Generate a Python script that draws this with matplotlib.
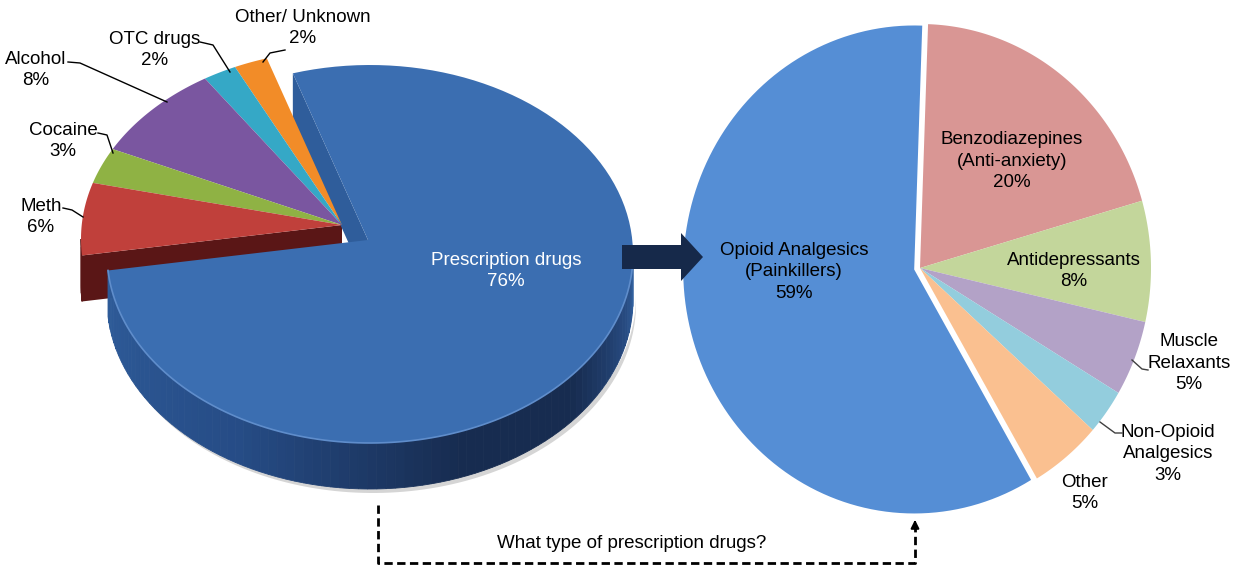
import numpy as np
import matplotlib
matplotlib.use('Agg')
import matplotlib.pyplot as plt
from matplotlib.patches import Polygon, FancyArrow
from matplotlib.colors import to_rgb

plt.rcParams['font.family'] = ['Liberation Sans', 'DejaVu Sans']

# left pie - substances (counterclockwise order)
sub_labels = ['Prescription drugs\n76%', 'Other/ Unknown\n2%', 'OTC drugs\n2%', 'Alcohol\n8%', 'Cocaine\n3%', 'Meth\n6%']
sub_values = [76, 2, 2, 8, 3, 6]
sub_colors = ['#3B6EB1', '#F28C28', '#35A8C6', '#7A56A0', '#8FB244', '#C0403B']
sub_side = ['#2A5088', '#A85A12', '#1E7088', '#4E3468', '#5C7A22', '#5A1616']

# right pie - type of prescription drugs (clockwise order from top)
rx_labels = ['Benzodiazepines\n(Anti-anxiety)\n20%', 'Antidepressants\n8%', 'Muscle\nRelaxants\n5%',
             'Non-Opioid\nAnalgesics\n3%', 'Other\n5%', 'Opioid Analgesics\n(Painkillers)\n59%']
rx_values = [20, 8, 5, 3, 5, 59]
rx_colors = ['#D99694', '#C3D69B', '#B3A2C7', '#93CDDD', '#FAC090', '#558ED5']

FS = 13.5
LS = 1.38

fig = plt.figure(figsize=(12.33, 5.67), dpi=100)
ax = fig.add_axes([0, 0, 1, 1])
ax.set_xlim(0, 1233)
ax.set_ylim(567, 0)
ax.axis('off')


def arc(cx, cy, a, b, t0, t1, n=120):
    t = np.radians(np.linspace(t0, t1, n))
    return np.column_stack([cx + a * np.cos(t), cy - b * np.sin(t)])


# ---------- left 3D pie ----------
A, B, DEPTH = 263, 189, 46
pie_c = np.array([356.0, 246.0])
apex_off = np.array([-2.0, -14.0])
ang = np.array(sub_values) / sum(sub_values) * 360
starts = 185 + np.concatenate([[0], np.cumsum(ang)[:-1]])
ends = starts + ang

# groups: blue slice pulled out, the rest pushed back
groups = [(list(range(1, 6)), np.array([-12.0, -7.0])), ([0], np.array([14.0, 8.0]))]

side_t = [180, 240, 290, 320, 350, 360]
side_rgb = [to_rgb(c) for c in ['#2F5D9B', '#264C86', '#172C50', '#172C50', '#2A5089', '#3262A0']]


def side_color(i, t):
    if i != 0:
        return sub_side[i]
    tt = t % 360
    return tuple(np.interp(tt, side_t, [c[k] for c in side_rgb]) for k in range(3))


def draw_group(idx, off):
    c = pie_c + off
    apex = c + apex_off
    d = np.array([0, DEPTH])
    t_lo, t_hi = starts[idx[0]], ends[idx[-1]]
    # shadow
    if 0 in idx:
        sh = arc(c[0] + 3, c[1] + DEPTH + 4, A, B, 180, 360)
        ax.add_patch(Polygon(np.vstack([sh, sh[::-1] - [0, 8]]), closed=True, fc='#D5D5D5', ec='none', zorder=1))
    # radial faces on group boundaries
    for t in (t_lo, t_hi):
        outer = arc(c[0], c[1], A, B, t, t, 1)[0]
        vis = (t == t_lo and np.cos(np.radians(t)) > 0) or (t == t_hi and np.cos(np.radians(t)) < 0)
        if vis:
            i = idx[0] if t == t_lo else idx[-1]
            ax.add_patch(Polygon([apex, outer, outer + d, apex + d], closed=True,
                                 fc=side_color(i, 100) if i == 0 else sub_side[i], ec='none', zorder=2))
    # outer rim sides (front half only)
    for i in idx:
        s, e = starts[i], ends[i]
        for k in range(int(np.floor(s / 360)) - 1, int(np.ceil(e / 360)) + 1):
            lo, hi = max(s, 180 + 360 * k), min(e, 360 + 360 * k)
            if hi <= lo:
                continue
            n = max(2, int((hi - lo) / 2))
            tt = np.linspace(lo, hi, n + 1)
            for j in range(n):
                top = arc(c[0], c[1], A, B, tt[j], tt[j + 1], 4)
                col = side_color(i, (tt[j] + tt[j + 1]) / 2)
                ax.add_patch(Polygon(np.vstack([top, top[::-1] + d]), closed=True,
                                     fc=col, ec=col, lw=0.6, zorder=3))
    # tops
    for i in idx:
        pts = np.vstack([apex, arc(c[0], c[1], A, B, starts[i], ends[i])])
        ax.add_patch(Polygon(pts, closed=True, fc=sub_colors[i], ec='none', zorder=4))
    if 0 in idx:
        rim = arc(c[0], c[1], A, B, 185, 360)
        ax.plot(rim[:, 0], rim[:, 1], color='#5F8DCB', lw=1.2, zorder=5)


for idx, off in groups:
    draw_group(idx, off)

ax.text(506, 271, sub_labels[0], color='white', fontsize=FS, ha='center', va='center', linespacing=LS, zorder=6)
left_pos = [None, (303, 28), (155, 50), (36, 70), (63, 141), (41, 217)]
left_lead = [None,
             [(263, 62), (270, 53), (285, 50)],
             [(200, 42), (213, 45), (230, 72)],
             [(68, 62), (80, 63), (167, 102)],
             [(98, 133), (107, 135), (113, 153)],
             [(63, 208), (72, 210), (83, 217)]]
for i in range(1, 6):
    ax.text(*left_pos[i], sub_labels[i], fontsize=FS, ha='center', va='center', linespacing=LS, zorder=6)
    ld = np.array(left_lead[i])
    ax.plot(ld[:, 0], ld[:, 1], color='black', lw=1, zorder=6)

# ---------- right flat pie ----------
RA, RB = 231, 244
rc = np.array([920.0, 268.0])
r_ang = np.array(rx_values) / sum(rx_values) * 360
r_hi = 88 - np.concatenate([[0], np.cumsum(r_ang)[:-1]])
r_lo = r_hi - r_ang
for i in range(len(rx_values)):
    c = rc.copy()
    if i == len(rx_values) - 1:
        mid = np.radians((r_hi[i] + r_lo[i]) / 2)
        c = c + 6 * np.array([np.cos(mid), -np.sin(mid)])
    pts = np.vstack([c, arc(c[0], c[1], RA, RB, r_lo[i], r_hi[i])])
    ax.add_patch(Polygon(pts, closed=True, fc=rx_colors[i], ec='none', zorder=4))

right_pos = [(1012, 161), (1074, 271), (1189, 363), (1168, 454), (1085, 493), (794, 272)]
for i in range(len(rx_values)):
    ax.text(*right_pos[i], rx_labels[i], fontsize=FS, ha='center', va='center', linespacing=LS, zorder=6)
for ld in ([(1132, 360), (1142, 369), (1148, 370)], [(1100, 422), (1115, 433), (1122, 433)]):
    ld = np.array(ld)
    ax.plot(ld[:, 0], ld[:, 1], color='#404040', lw=1, zorder=6)

# ---------- connectors ----------
ax.add_patch(FancyArrow(622, 257, 81, 0, width=24, head_width=48, head_length=22,
                        length_includes_head=True, fc='#16294A', ec='none', zorder=6))
ax.plot([378, 378, 915, 915], [505, 563, 563, 526], color='black', lw=2,
        ls=(0, (3, 1.6)), zorder=6)
ax.annotate('', xy=(915, 517), xytext=(915, 527),
            arrowprops=dict(arrowstyle='-|>', color='black', lw=1.5, mutation_scale=12), zorder=6)
ax.text(632, 543, 'What type of prescription drugs?', fontsize=FS, ha='center', va='center', zorder=6)

fig.savefig('out.png', dpi=100, facecolor='white')
